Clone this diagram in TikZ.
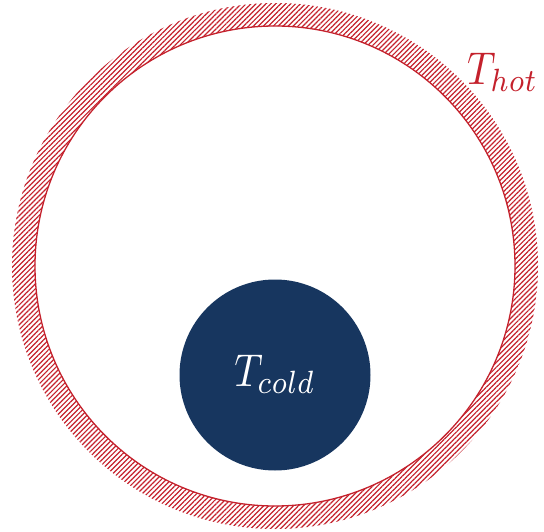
\documentclass[tikz,border=0pt]{standalone}
\usepackage{graphicx}
\usepackage{xcolor}
\usepackage{tikz}
\usetikzlibrary{patterns.meta}
\definecolor{WRed}{HTML}{C4212C}
\definecolor{CNavy}{HTML}{17365F}
\newcommand{\bigT}[1]{\scalebox{3.95}[4.6]{$T_{#1}$}}

\begin{document}
\begin{tikzpicture}[
  x=1pt,y=-1pt,
  wall/.style={pattern={Lines[angle=45,distance=3.5pt,line width=1.2pt]},
    pattern color=WRed,even odd rule},
  wallface/.style={draw=WRed,line width=1.3pt},
  coldbody/.style={circle,fill=CNavy,minimum size=191pt,inner sep=0pt,
    text=white},
  hotlabel/.style={text=WRed,inner sep=0pt}
]
  \useasboundingbox (0,0) rectangle (544,532);
  \coordinate (centre) at (275,266);

  % hot enclosure
  \fill[wall] (centre) circle[radius=263] (centre) circle[radius=240];
  \draw[wallface] (centre) circle[radius=240];
  \node[hotlabel,anchor=base west] (hot) at (467,85) {\bigT{hot}};

  % cold body
  \node[coldbody] (cold) at (275,375) {\raisebox{9pt}{\bigT{cold}}};
\end{tikzpicture}
\end{document}
